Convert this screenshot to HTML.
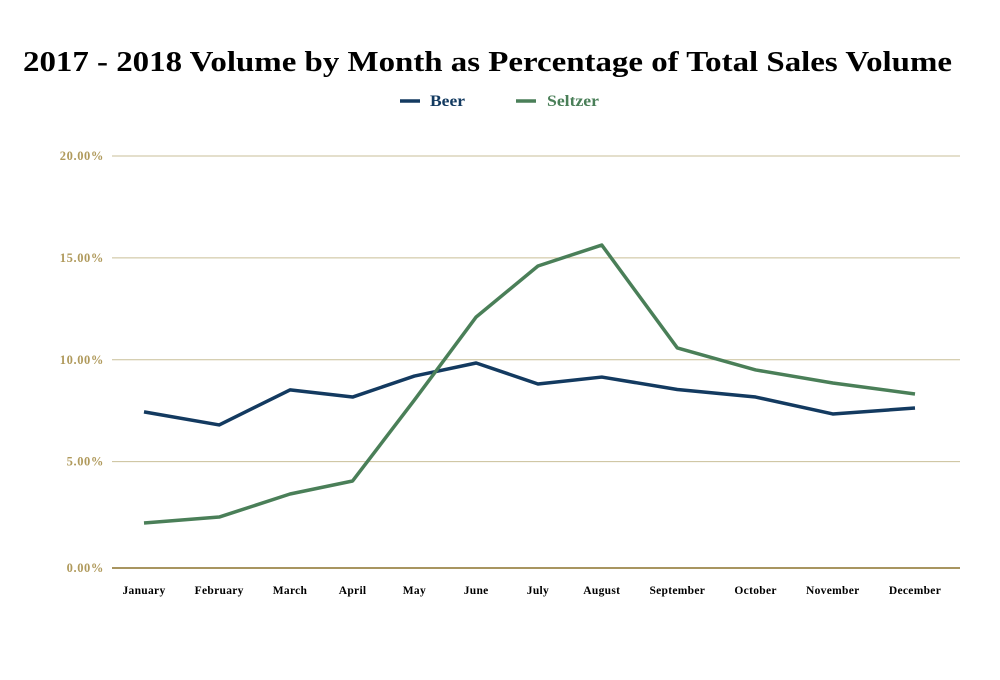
<!DOCTYPE html>
<html><head><meta charset="utf-8"><style>
body{margin:0;background:#fff;}
svg{display:block;font-family:"Liberation Serif",serif;}
</style></head><body>
<svg id="chart" width="1000" height="680">
<text x="23" y="71" textLength="929" lengthAdjust="spacingAndGlyphs" font-size="28" font-weight="bold" fill="#000">2017 - 2018 Volume by Month as Percentage of Total Sales Volume</text>
<g>
<g><line x1="400" y1="101" x2="420" y2="101" stroke="#133a60" stroke-width="3.5"/><text x="430" y="106" textLength="35" lengthAdjust="spacingAndGlyphs" font-size="16" font-weight="bold" fill="#133a60">Beer</text></g>
<g><line x1="516" y1="101" x2="536" y2="101" stroke="#4a7f58" stroke-width="3.5"/><text x="547" y="106" textLength="52" lengthAdjust="spacingAndGlyphs" font-size="16" font-weight="bold" fill="#4a7f58">Seltzer</text></g>
</g>
<g id="grid"></g><g id="xlabels"></g><g id="series"></g>
</svg>
<script>
const months=["January","February","March","April","May","June","July","August","September","October","November","December"];
const beer=[7.44,6.80,8.52,8.17,9.20,9.84,8.81,9.15,8.54,8.17,7.34,7.63];
const seltzer=[1.99,2.28,3.41,4.05,8.02,12.10,14.60,15.63,10.58,9.50,8.86,8.32];
const yTicks=[0,5,10,15,20];
const yTickLabels=["0.00%","5.00%","10.00%","15.00%","20.00%"];
const NS="http://www.w3.org/2000/svg";
const yTop=156,yBot=563.5,firstC=144,lastC=915;
const ys=v=>yBot-(yBot-yTop)*v/20;
function mk(t,a,p){const e=document.createElementNS(NS,t);for(const k in a)e.setAttribute(k,a[k]);p.appendChild(e);return e;}
const g=document.getElementById('grid');
yTicks.forEach((v,i)=>{
 const y=v===0?568:ys(v);
 const l=mk('line',{x1:112,x2:960,y1:y,y2:y,stroke:v===0?'#a89560':'#c9bf98','stroke-width':v===0?2:1},g);
 
 
 const t=mk('text',{x:104,y:y+4,'text-anchor':'end','font-size':12.5,'font-weight':'bold','letter-spacing':0.6,fill:'#b09a5c'},g);
 t.textContent=yTickLabels[i];
 
 
});
// category columns sized by label width (min width), points at column centres
const xl=document.getElementById('xlabels');
const texts=months.map(m=>{
 const t=mk('text',{x:0,y:594,'text-anchor':'middle','font-size':11.5,'font-weight':'bold','letter-spacing':0.3,fill:'#000'},xl);
 t.textContent=m;
 
 
 return t;
});
const cols=texts.map(t=>Math.max(t.getComputedTextLength()+27,60));
const raw=[];let acc=0;
cols.forEach((c,i)=>{raw.push(acc+c/2);acc+=c;});
const k=(lastC-firstC)/(raw[raw.length-1]-raw[0]);
const centers=raw.map(r=>firstC+(r-raw[0])*k);
texts.forEach((t,i)=>t.setAttribute('x',centers[i]));
const xs=i=>centers[i];
const s=document.getElementById('series');
[[beer,'#133a60','beer-line'],[seltzer,'#4a7f58','seltzer-line']].forEach(([d,c,n])=>{
 const p=mk('polyline',{points:d.map((v,i)=>xs(i)+','+ys(v)).join(' '),fill:'none',stroke:c,'stroke-width':3.5,'stroke-linejoin':'round'},s);
 
 
});
</script>
</body></html>
